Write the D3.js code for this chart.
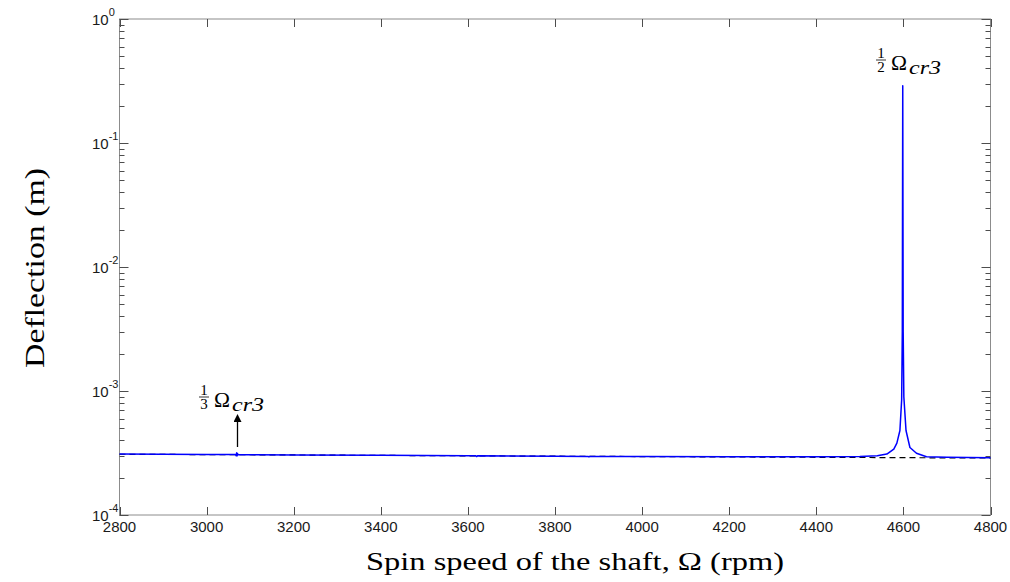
<!DOCTYPE html>
<html>
<head>
<meta charset="utf-8">
<script src="https://cdn.jsdelivr.net/npm/d3@7"></script>
<style>
  body { margin: 0; background: #fff; }
  svg { display: block; }
</style>
</head>
<body>
<svg id="chart" width="1010" height="582"></svg>
<script>
// ---- data ----
const rpm = [2800, 2900, 3000, 3060, 3066, 3068, 3069, 3070, 3071, 3072, 3200, 3400, 3600, 3618, 3620, 3622,
  3800, 3876, 3878, 3880, 4000, 4200, 4400, 4500, 4540, 4562, 4578, 4585, 4592, 4596, 4597.5, 4598.5,
  4599.5, 4601, 4606, 4615, 4630, 4653, 4700, 4800];
const deflection = [3.10e-4, 3.09e-4, 3.08e-4, 3.075e-4, 3.07e-4, 3.01e-4, 3.17e-4, 3.0e-4, 3.13e-4, 3.07e-4,
  3.05e-4, 3.03e-4, 3.0e-4, 3.0e-4, 2.96e-4, 3.0e-4,
  2.98e-4, 2.97e-4, 2.94e-4, 2.97e-4, 2.96e-4, 2.955e-4, 2.95e-4, 2.97e-4, 3.0e-4, 3.1e-4, 3.4e-4, 3.8e-4,
  4.8e-4, 8.5e-4, 3.0e-3, 0.29,
  3.0e-3, 9.0e-4, 4.8e-4, 3.5e-4, 3.15e-4, 2.95e-4, 2.92e-4, 2.89e-4];
const linRpm = [2800, 3200, 3600, 4000, 4400, 4800];
const linDeflection = [3.09e-4, 3.05e-4, 3.0e-4, 2.96e-4, 2.92e-4, 2.88e-4];
const xTicks = [2800, 3000, 3200, 3400, 3600, 3800, 4000, 4200, 4400, 4600, 4800];
const yTicks = [1e-4, 1e-3, 1e-2, 1e-1, 1];
const yExponents = ["-4", "-3", "-2", "-1", "0"];
const arrowRpm = 3070;

// ---- layout ----
const svg = d3.select("#chart");
const L = 119.5, R = 990.5, T = 19, B = 515;
const x = d3.scaleLinear().domain([2800, 4800]).range([L, R]);
const y = d3.scaleLog().domain([1e-4, 1]).range([B, T]);

const boxColor = "#8c8c8c", tickColor = "#4d4d4d", labelColor = "#1a1a1a";
const serif = "Liberation Serif, Times New Roman, serif";

// box
svg.append("rect").attr("x", L).attr("y", T).attr("width", R - L).attr("height", B - T)
  .attr("fill", "none").attr("stroke", boxColor).attr("stroke-width", 1);

const gt = svg.append("g").attr("stroke", tickColor).attr("stroke-width", 1);
xTicks.forEach(v => {
  const xx = Math.round(x(v)) + 0.5;
  gt.append("line").attr("x1", xx).attr("x2", xx).attr("y1", B).attr("y2", B - 8);
  gt.append("line").attr("x1", xx).attr("x2", xx).attr("y1", T).attr("y2", T + 8);
});
const minor = y.ticks().filter(v => !yTicks.includes(v));
yTicks.forEach(v => {
  const yy = Math.round(y(v)) + 0.5;
  gt.append("line").attr("x1", L).attr("x2", L + 9).attr("y1", yy).attr("y2", yy);
  gt.append("line").attr("x1", R).attr("x2", R - 9).attr("y1", yy).attr("y2", yy);
});
minor.forEach(v => {
  const yy = Math.round(y(v)) + 0.5;
  gt.append("line").attr("x1", L).attr("x2", L + 5).attr("y1", yy).attr("y2", yy);
  gt.append("line").attr("x1", R).attr("x2", R - 5).attr("y1", yy).attr("y2", yy);
});

// x tick labels
svg.append("g").selectAll("text").data(xTicks).join("text")
  .attr("x", d => x(d)).attr("y", B + 17)
  .attr("text-anchor", "middle")
  .attr("font-family", "Liberation Sans, Arial, sans-serif").attr("font-size", 15)
  .attr("fill", labelColor)
  .text(d => d);

// y tick labels
const yl = svg.append("g").selectAll("text").data(yTicks).join("text")
  .attr("x", 92).attr("y", d => y(d) + 6)
  .attr("font-family", "Liberation Sans, Arial, sans-serif").attr("font-size", 15)
  .attr("fill", labelColor);
yl.append("tspan").text("10");
yl.append("tspan").attr("dy", -9).attr("font-size", 11).text((d, i) => yExponents[i]);

// lines
const lin = linRpm.map((r, i) => [r, linDeflection[i]]);
svg.append("path").datum(lin)
  .attr("d", d3.line().x(d => x(d[0])).y(d => y(d[1])))
  .attr("fill", "none").attr("stroke", "#000").attr("stroke-width", 1.2)
  .attr("stroke-dasharray", "6,4");

const data = rpm.map((r, i) => [r, deflection[i]]);
svg.append("path").datum(data)
  .attr("d", d3.line().x(d => x(d[0])).y(d => y(d[1])))
  .attr("fill", "none").attr("stroke", "#0000ff").attr("stroke-width", 1.5)
  .attr("stroke-linejoin", "round");

// arrow
svg.append("defs").append("marker").attr("id", "ah")
  .attr("viewBox", "0 0 10 10").attr("refX", 5).attr("refY", 10)
  .attr("markerWidth", 8).attr("markerHeight", 10).attr("markerUnits", "userSpaceOnUse")
  .attr("orient", "0")
  .append("path").attr("d", "M0,10 L5,0 L10,10 Z").attr("fill", "#000");
const ax = Math.round(x(arrowRpm)) + 0.5;
svg.append("line").attr("x1", ax).attr("x2", ax).attr("y1", 447).attr("y2", 422)
  .attr("stroke", "#000").attr("stroke-width", 1.3).attr("marker-end", "url(#ah)");

// annotation labels: fraction + Omega_cr3
function annot(cx, base, num, den) {
  const g = svg.append("g").attr("font-family", serif).attr("fill", "#000");
  g.append("text").attr("x", cx).attr("y", base - 12).attr("text-anchor", "middle").attr("font-size", 15).text(num);
  g.append("line").attr("x1", cx - 5).attr("x2", cx + 5).attr("y1", base - 10).attr("y2", base - 10)
    .attr("stroke", "#000").attr("stroke-width", 0.8);
  g.append("text").attr("x", cx).attr("y", base + 2).attr("text-anchor", "middle").attr("font-size", 15).text(den);
  g.append("text").attr("x", cx + 10).attr("y", base - 0.5).attr("font-size", 22)
    .attr("textLength", 16).attr("lengthAdjust", "spacingAndGlyphs").text("Ω");
  g.append("text").attr("x", cx + 28).attr("y", base + 4).attr("font-size", 18).attr("font-style", "italic")
    .attr("textLength", 32).attr("lengthAdjust", "spacingAndGlyphs").text("cr3");
}
annot(204, 407, "1", "3");
annot(881, 70, "1", "2");

// axis titles
svg.append("text").attr("x", 575).attr("y", 570).attr("text-anchor", "middle")
  .attr("font-family", serif).attr("font-size", 26)
  .attr("textLength", 418).attr("lengthAdjust", "spacingAndGlyphs")
  .attr("fill", "#000").text("Spin speed of the shaft, Ω (rpm)");
svg.append("text").attr("transform", "translate(44,268) rotate(-90)").attr("text-anchor", "middle")
  .attr("font-family", serif).attr("font-size", 28)
  .attr("textLength", 200).attr("lengthAdjust", "spacingAndGlyphs")
  .attr("fill", "#000").text("Deflection (m)");
</script>
</body>
</html>
